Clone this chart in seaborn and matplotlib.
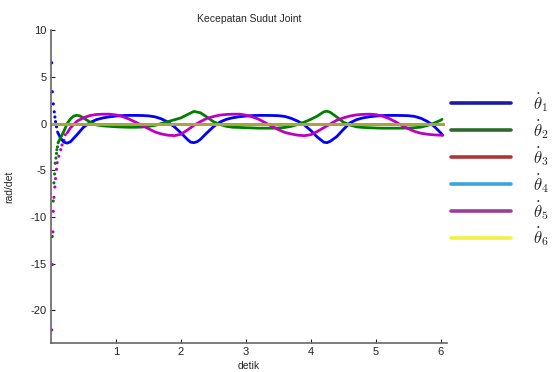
import numpy as np
import pandas as pd
import seaborn as sns
import matplotlib.pyplot as plt
from matplotlib.lines import Line2D

# joint 1 (blue): early sparse samples, then the dense part
th1_dot_t = [0.01, 0.02, 0.035, 0.05, 0.06, 0.07, 0.085]
th1_dot = [6.5, 3.4, 2.1, 1.25, 0.7, 0.2, -0.35]
th1_t = [0.1, 0.15, 0.2, 0.25, 0.3, 0.4, 0.5, 0.6, 0.7, 0.8, 0.9, 1.0, 1.1, 1.2,
         1.3, 1.4, 1.5, 1.6, 1.7, 1.8, 1.9, 2.0, 2.1, 2.15, 2.2, 2.25, 2.3, 2.4,
         2.5, 2.6, 2.7, 2.8, 2.9, 3.0, 3.1, 3.2, 3.3, 3.4, 3.5, 3.6, 3.7, 3.8,
         3.9, 4.0, 4.1, 4.2, 4.25, 4.3, 4.4, 4.5, 4.6, 4.7, 4.8, 4.9, 5.0, 5.1,
         5.2, 5.3, 5.4, 5.5, 5.6, 5.7, 5.8, 5.9, 6.0, 6.03]
th1 = [-0.9, -1.6, -2.0, -2.1, -1.95, -1.2, -0.4, 0.1, 0.42, 0.6, 0.72, 0.8,
       0.85, 0.87, 0.87, 0.86, 0.82, 0.72, 0.5, 0.15, -0.35, -1.0, -1.7, -2.0,
       -2.05, -1.95, -1.7, -1.0, -0.35, 0.15, 0.45, 0.62, 0.73, 0.8, 0.85, 0.87,
       0.87, 0.86, 0.84, 0.76, 0.55, 0.25, -0.15, -0.75, -1.45, -2.0, -2.05,
       -1.9, -1.4, -0.65, 0.05, 0.4, 0.6, 0.72, 0.8, 0.85, 0.87, 0.87, 0.86,
       0.84, 0.76, 0.55, 0.2, -0.3, -1.0, -1.25]

# joint 2 (green)
th2_dot_t = [0.02, 0.035, 0.045, 0.055, 0.065, 0.075, 0.085, 0.09, 0.1, 0.11]
th2_dot = [-12.1, -8.3, -6.35, -5.4, -4.25, -3.7, -3.2, -2.8, -2.5, -2.05]
th2_t = [0.12, 0.15, 0.2, 0.25, 0.3, 0.35, 0.4, 0.45, 0.5, 0.6, 0.7, 0.8, 0.9,
         1.0, 1.1, 1.2, 1.3, 1.4, 1.5, 1.6, 1.7, 1.8, 1.9, 2.0, 2.1, 2.2, 2.3,
         2.4, 2.5, 2.6, 2.7, 2.8, 2.9, 3.0, 3.1, 3.2, 3.3, 3.4, 3.5, 3.6, 3.7,
         3.8, 3.9, 4.0, 4.1, 4.2, 4.25, 4.3, 4.4, 4.5, 4.6, 4.7, 4.8, 4.9, 5.0,
         5.1, 5.2, 5.3, 5.4, 5.5, 5.6, 5.7, 5.8, 5.9, 6.0, 6.02]
th2 = [-1.9, -1.5, -0.8, 0.0, 0.5, 0.8, 0.88, 0.8, 0.6, 0.15, -0.15, -0.25,
       -0.3, -0.35, -0.38, -0.4, -0.4, -0.38, -0.3, -0.2, 0.0, 0.2, 0.4, 0.6,
       0.95, 1.3, 1.15, 0.7, 0.2, -0.1, -0.3, -0.4, -0.42, -0.45, -0.47, -0.5,
       -0.5, -0.5, -0.48, -0.42, -0.3, -0.1, 0.15, 0.45, 0.8, 1.25, 1.32, 1.2,
       0.7, 0.15, -0.15, -0.35, -0.42, -0.45, -0.48, -0.5, -0.5, -0.5, -0.5,
       -0.48, -0.45, -0.38, -0.2, 0.05, 0.35, 0.45]

# joint 5 (magenta)
th5_dot_t = [0.01, 0.02, 0.03, 0.035, 0.045, 0.06, 0.07, 0.085, 0.095, 0.12,
             0.15, 0.17, 0.2, 0.22]
th5_dot = [-22.1, -15.1, -11.6, -9.4, -7.9, -6.8, -5.9, -4.9, -4.2, -3.5,
           -2.8, -2.3, -1.8, -1.2]
th5_t = [0.25, 0.3, 0.35, 0.4, 0.5, 0.6, 0.7, 0.8, 0.9, 1.0, 1.1, 1.2, 1.3,
         1.4, 1.5, 1.6, 1.7, 1.8, 1.9, 2.0, 2.1, 2.2, 2.3, 2.4, 2.5, 2.6, 2.7,
         2.8, 2.9, 3.0, 3.1, 3.2, 3.3, 3.4, 3.5, 3.6, 3.7, 3.8, 3.9, 4.0, 4.1,
         4.2, 4.3, 4.4, 4.5, 4.6, 4.7, 4.8, 4.9, 5.0, 5.1, 5.2, 5.3, 5.4, 5.5,
         5.6, 5.7, 5.8, 5.9, 6.0, 6.03]
th5 = [-1.0, -0.45, -0.1, 0.25, 0.62, 0.85, 0.97, 1.0, 1.0, 0.92, 0.75, 0.48,
       0.15, -0.2, -0.55, -0.9, -1.12, -1.25, -1.3, -1.15, -0.7, -0.2, 0.2,
       0.55, 0.75, 0.9, 0.97, 1.0, 1.0, 0.9, 0.72, 0.45, 0.08, -0.3, -0.65,
       -0.95, -1.12, -1.25, -1.3, -1.2, -0.85, -0.45, -0.05, 0.35, 0.6, 0.8,
       0.92, 0.98, 1.0, 0.95, 0.8, 0.55, 0.2, -0.2, -0.55, -0.85, -1.05, -1.15,
       -1.22, -1.25, -1.25]

# joints 3, 4, 6 stay at zero
flat_t = [0.0, 6.03]
th3 = [0.0, 0.0]
th4 = [0.0, 0.0]
th6 = [0.0, 0.0]

labels = [r'$\dot{\theta}_%d$' % i for i in range(1, 7)]
plot_colors = ['#0000ff', '#008000', '#e03030', '#00b0e0', '#c000c0', '#aaa83a']
legend_colors = ['#1c1ca0', '#2e6a2e', '#b03636', '#38a6dc', '#9a3e9a', '#f2f040']

lines = pd.concat([
    pd.DataFrame({'t': th1_t, 'v': th1, 'joint': labels[0]}),
    pd.DataFrame({'t': th2_t, 'v': th2, 'joint': labels[1]}),
    pd.DataFrame({'t': flat_t, 'v': th3, 'joint': labels[2]}),
    pd.DataFrame({'t': flat_t, 'v': th4, 'joint': labels[3]}),
    pd.DataFrame({'t': th5_t, 'v': th5, 'joint': labels[4]}),
    pd.DataFrame({'t': flat_t, 'v': th6, 'joint': labels[5]}),
])
dots = pd.concat([
    pd.DataFrame({'t': th1_dot_t, 'v': th1_dot, 'joint': labels[0]}),
    pd.DataFrame({'t': th2_dot_t, 'v': th2_dot, 'joint': labels[1]}),
    pd.DataFrame({'t': th5_dot_t, 'v': th5_dot, 'joint': labels[4]}),
])

sns.set_style('ticks')
plt.rcParams['font.family'] = ['Liberation Sans', 'DejaVu Sans']
plt.rcParams['mathtext.fontset'] = 'cm'
plt.rcParams['axes.unicode_minus'] = False

fig = plt.figure(figsize=(5.58, 3.72), dpi=100)
ax = fig.add_axes([0.0914, 0.078, 0.71, 0.841])

palette = dict(zip(labels, plot_colors))
sns.lineplot(data=lines, x='t', y='v', hue='joint', palette=palette,
             sort=False, estimator=None, linewidth=2.0, legend=False, ax=ax)
sns.scatterplot(data=dots, x='t', y='v', hue='joint', palette=palette,
                s=5, linewidth=0, legend=False, ax=ax)

ax.set_xlim(0, 6.1)
ax.set_ylim(-23.5, 10)
ax.set_xticks([1, 2, 3, 4, 5, 6])
ax.set_yticks([10, 5, 0, -5, -10, -15, -20])
ax.tick_params(direction='in', length=3, width=0.8, labelsize=8,
               colors='#222222', pad=3)
for s in ['left', 'bottom']:
    ax.spines[s].set_color('#666666')
    ax.spines[s].set_linewidth(1.2)
sns.despine(ax=ax)

ax.set_title('Kecepatan Sudut Joint', fontsize=7.5, pad=6)
ax.set_xlabel('detik', fontsize=7.5, labelpad=3)
ax.set_ylabel('rad/det', fontsize=7.5, labelpad=12)

handles = [Line2D([0], [0], color=c, lw=2.6) for c in legend_colors]
fig.legend(handles, labels, loc='upper left', bbox_to_anchor=(0.808, 0.755),
           frameon=False, fontsize=12, handlelength=3.6, handletextpad=1.3,
           labelspacing=0.24, borderpad=0, borderaxespad=0)

fig.savefig('out.png', dpi=100)
